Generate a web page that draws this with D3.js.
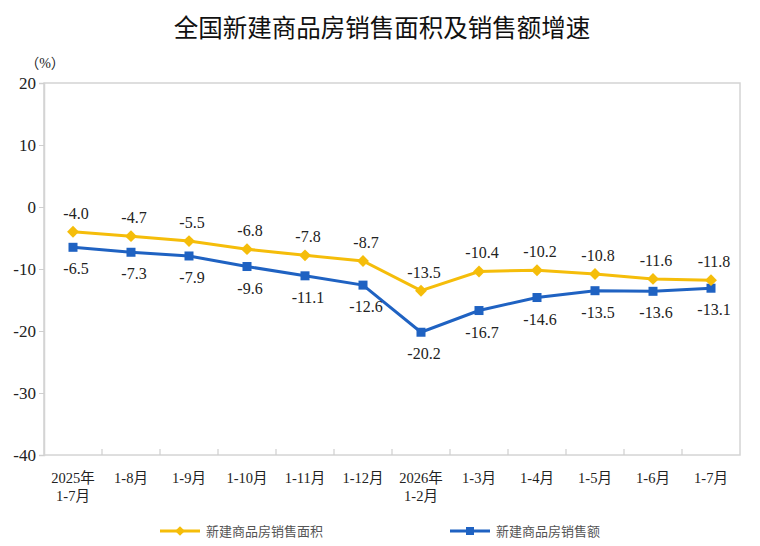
<!DOCTYPE html>
<html>
<head>
<meta charset="utf-8">
<script src="https://cdn.jsdelivr.net/npm/d3@7/dist/d3.min.js"></script>
<style>
  body { margin: 0; background: #fff; }
  svg { display: block; }
</style>
</head>
<body>
<div id="chart"></div>
<script>
// 資料
const categories = ["2025年\n1-7月", "1-8月", "1-9月", "1-10月", "1-11月", "1-12月",
                    "2026年\n1-2月", "1-3月", "1-4月", "1-5月", "1-6月", "1-7月"];
const areaGrowth  = [-4.0, -4.7, -5.5, -6.8, -7.8, -8.7, -13.5, -10.4, -10.2, -10.8, -11.6, -11.8];
const salesGrowth = [-6.5, -7.3, -7.9, -9.6, -11.1, -12.6, -20.2, -16.7, -14.6, -13.5, -13.6, -13.1];
const yTicks = [20, 10, 0, -10, -20, -30, -40];
const seriesNames = ["新建商品房销售面积", "新建商品房销售额"];

const W = 760, H = 546;
const margin = {top: 83, right: 20, bottom: 91, left: 44};
const width = W - margin.left - margin.right,
      height = H - margin.top - margin.bottom;

const yellow = "#F5BD0A", blue = "#1F62C2";
const serif = "'Liberation Serif','Times New Roman','Noto Sans CJK SC',serif";

const svg = d3.select("#chart").append("svg")
  .attr("width", W).attr("height", H);

// 標題
svg.append("text")
  .attr("x", W / 2 + 2).attr("y", 37)
  .attr("text-anchor", "middle")
  .style("font-family", "'Noto Sans CJK SC',sans-serif")
  .style("font-size", "24.5px")
  .style("fill", "#111")
  .text("全国新建商品房销售面积及销售额增速");

const g = svg.append("g").attr("transform", `translate(${margin.left},${margin.top})`);

const x = d3.scaleBand().domain(categories).range([0, width]);
const y = d3.scaleLinear().domain([-40, 20]).range([height, 0]);

// 外框
g.append("rect")
  .attr("x", 0).attr("y", 0).attr("width", width).attr("height", height)
  .attr("fill", "none").attr("stroke", "#d4d4d4").attr("stroke-width", 1.5);

// y軸
const yAxis = g.append("g")
  .call(d3.axisLeft(y).tickValues(yTicks).tickSize(5).tickPadding(3).tickFormat(d => String(d)));
yAxis.select(".domain").attr("stroke", "#d4d4d4").attr("stroke-width", 1.5);
yAxis.selectAll(".tick line").attr("stroke", "#cfcfcf");
yAxis.selectAll(".tick text")
  .style("font-family", serif).style("font-size", "17px").style("fill", "#222");

svg.append("text")
  .attr("x", 45).attr("y", 68)
  .attr("text-anchor", "middle")
  .style("font-family", serif).style("font-size", "14px").style("fill", "#222")
  .text("（%）");

// x軸刻度（向上）
const bounds = categories.slice(1).map(c => x(c));
g.selectAll(".xtick").data(bounds).enter().append("line")
  .attr("x1", d => d).attr("x2", d => d)
  .attr("y1", height).attr("y2", height - 6)
  .attr("stroke", "#cfcfcf").attr("stroke-width", 1.2);

const xlab = g.selectAll(".xlab").data(categories).enter().append("text")
  .attr("text-anchor", "middle")
  .attr("transform", d => `translate(${x(d) + x.bandwidth() / 2},${height + 28})`)
  .style("font-family", serif).style("font-size", "14.5px").style("fill", "#222");
xlab.each(function(d) {
  const lines = d.split("\n");
  lines.forEach((t, i) => {
    d3.select(this).append("tspan").attr("x", 0).attr("dy", i === 0 ? 0 : 18).text(t);
  });
});

// 折線
const line = d3.line().x((d, i) => x(categories[i]) + x.bandwidth() / 2).y(d => y(d));

g.append("path").datum(salesGrowth)
  .attr("d", line).attr("fill", "none").attr("stroke", blue).attr("stroke-width", 3);
g.append("path").datum(areaGrowth)
  .attr("d", line).attr("fill", "none").attr("stroke", yellow).attr("stroke-width", 3);

// 標記
g.selectAll(".sq").data(salesGrowth).enter().append("rect")
  .attr("x", (d, i) => x(categories[i]) + x.bandwidth() / 2 - 4.5)
  .attr("y", d => y(d) - 4.5)
  .attr("width", 9).attr("height", 9).attr("fill", blue);

const diamond = d3.symbol().type(d3.symbolDiamond2).size(90);
g.selectAll(".dm").data(areaGrowth).enter().append("path")
  .attr("d", diamond)
  .attr("transform", (d, i) => `translate(${x(categories[i]) + x.bandwidth() / 2},${y(d)})`)
  .attr("fill", yellow);

// 數值標籤
g.selectAll(".la").data(areaGrowth).enter().append("text")
  .attr("x", (d, i) => x(categories[i]) + x.bandwidth() / 2 + 3)
  .attr("y", d => y(d) - 13)
  .attr("text-anchor", "middle")
  .style("font-family", serif).style("font-size", "16px").style("fill", "#222")
  .text(d => d.toFixed(1));

g.selectAll(".lb").data(salesGrowth).enter().append("text")
  .attr("x", (d, i) => x(categories[i]) + x.bandwidth() / 2 + 3)
  .attr("y", d => y(d) + 27)
  .attr("text-anchor", "middle")
  .style("font-family", serif).style("font-size", "16px").style("fill", "#222")
  .text(d => d.toFixed(1));

// 圖例
const legend = svg.append("g").attr("transform", "translate(0,531)");
const legendItems = [
  {name: seriesNames[0], color: yellow, x0: 160, shape: "diamond"},
  {name: seriesNames[1], color: blue, x0: 450, shape: "square"}
];
legendItems.forEach(it => {
  legend.append("line")
    .attr("x1", it.x0).attr("x2", it.x0 + 40).attr("y1", 0).attr("y2", 0)
    .attr("stroke", it.color).attr("stroke-width", 3);
  if (it.shape === "diamond") {
    legend.append("path").attr("d", d3.symbol().type(d3.symbolDiamond2).size(60))
      .attr("transform", `translate(${it.x0 + 20},0)`).attr("fill", it.color);
  } else {
    legend.append("rect").attr("x", it.x0 + 16).attr("y", -4).attr("width", 8).attr("height", 8)
      .attr("fill", it.color);
  }
  legend.append("text")
    .attr("x", it.x0 + 46).attr("y", 5)
    .style("font-family", "'Noto Sans CJK SC',sans-serif").style("font-size", "13px").style("fill", "#555")
    .text(it.name);
});
</script>
</body>
</html>
